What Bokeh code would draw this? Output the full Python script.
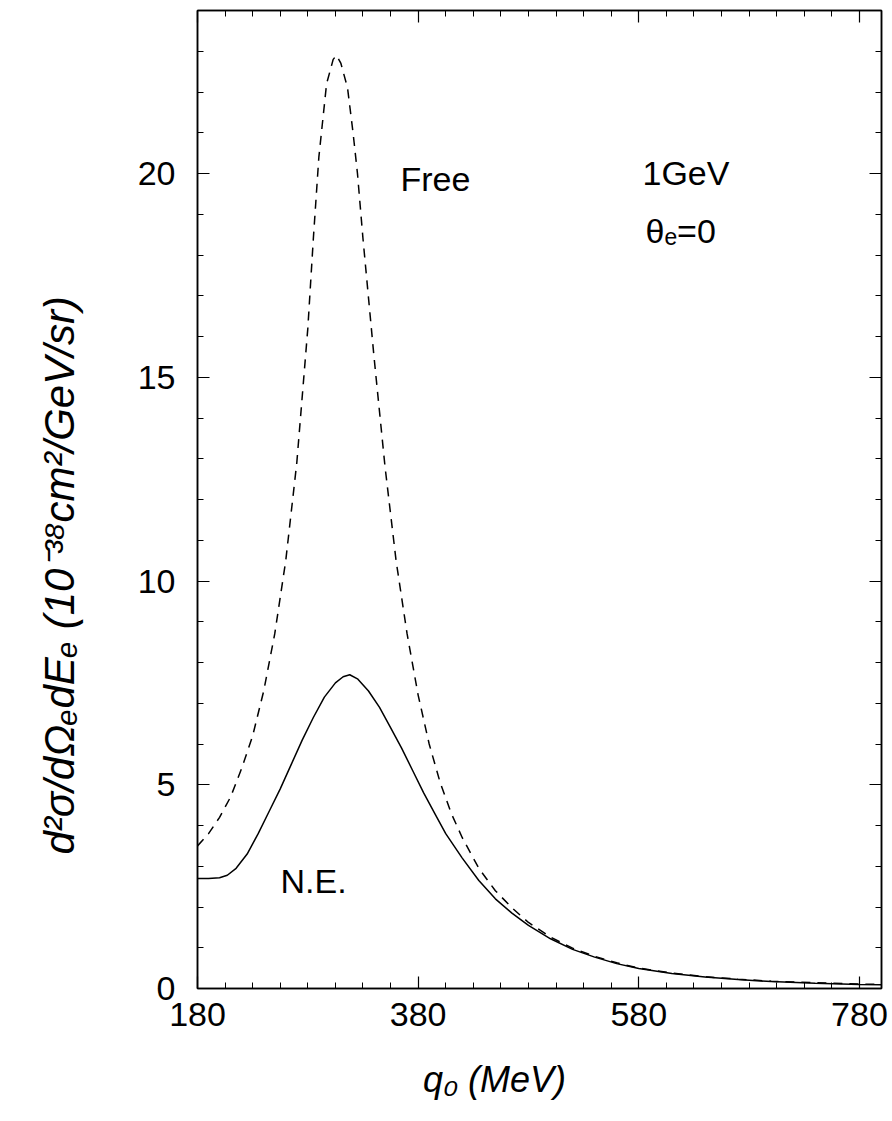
from bokeh.plotting import figure
from bokeh.models import LinearAxis, FixedTicker, Label, Range1d, CustomJSTickFormatter
from bokeh.embed import file_html
from bokeh.resources import INLINE

# ---- data ----
q0_free = [180, 190, 200, 210, 220, 230, 240, 250, 260, 270, 280, 285, 290, 297, 303, 306,
           310, 316, 321, 325, 330, 340, 350, 360, 370, 380, 390, 400, 410, 420, 435, 450,
           465, 480, 500, 520, 540, 560, 580, 610, 640, 670, 700, 740, 780, 800]
free = [3.5, 3.8, 4.2, 4.7, 5.4, 6.2, 7.3, 8.7, 10.5, 12.9, 16.2, 18.4, 20.4, 22.2, 22.8, 22.9,
        22.7, 22.1, 21.0, 20.0, 18.4, 15.5, 12.8, 10.5, 8.7, 7.2, 6.0, 5.05, 4.3, 3.7, 2.95, 2.4,
        1.98, 1.62, 1.26, 0.99, 0.79, 0.63, 0.5, 0.38, 0.29, 0.23, 0.18, 0.14, 0.11, 0.1]

q0_ne = [180, 190, 200, 207, 215, 225, 235, 245, 255, 265, 275, 285, 295, 305, 312,
         318, 325, 335, 345, 355, 365, 375, 385, 395, 405, 420, 435, 450, 465, 480,
         500, 520, 540, 560, 580, 610, 640, 670, 700, 740, 780, 800]
ne = [2.7, 2.7, 2.72, 2.78, 2.95, 3.3, 3.8, 4.35, 4.9, 5.5, 6.1, 6.65, 7.15, 7.5, 7.65,
      7.7, 7.6, 7.3, 6.9, 6.4, 5.9, 5.35, 4.8, 4.3, 3.8, 3.2, 2.65, 2.2, 1.85, 1.55,
      1.22, 0.96, 0.77, 0.61, 0.49, 0.37, 0.28, 0.22, 0.17, 0.13, 0.1, 0.09]

x_ticks = [180, 380, 580, 780]
y_ticks = [0, 5, 10, 15, 20]

FONT = "Liberation Sans"
NB = "\u00a0"

p = figure(frame_width=684, frame_height=978, output_backend="svg", toolbar_location=None,
           x_range=Range1d(180, 800), y_range=Range1d(0, 24),
           min_border_left=197, min_border_right=11, min_border_top=10, min_border_bottom=133,
           x_axis_label="q\u2080 (MeV)" + NB * 9,
           y_axis_label="d\u00b2\u03c3/d\u03a9\u2091dE\u2091  (10\u207b\u00b3\u2078cm\u00b2/GeV/sr)" + NB * 12)
p.background_fill_color = "white"
p.border_fill_color = "white"
p.outline_line_color = "black"
p.outline_line_width = 1.5
p.grid.visible = False

xt = FixedTicker(ticks=x_ticks, minor_ticks=list(range(180, 801, 25)))
yt = FixedTicker(ticks=y_ticks, minor_ticks=list(range(0, 25)))

def style(ax, show_labels):
    ax.axis_line_color = "black"
    ax.axis_line_width = 1.5
    ax.major_tick_in = 12
    ax.major_tick_out = 0
    ax.minor_tick_in = 6
    ax.minor_tick_out = 0
    ax.major_tick_line_color = "black"
    ax.minor_tick_line_color = "black"
    ax.major_tick_line_width = 1.2
    ax.minor_tick_line_width = 1.0
    if show_labels:
        ax.major_label_text_font = FONT
        ax.major_label_text_font_size = "34px"
        ax.major_label_text_color = "black"
    else:
        ax.formatter = CustomJSTickFormatter(code="return ''")

p.xaxis.ticker = xt
p.yaxis.ticker = yt
style(p.xaxis[0], True)
style(p.yaxis[0], True)
p.xaxis.major_label_standoff = 14
p.yaxis.major_label_standoff = 22
p.xaxis.axis_label_text_font = FONT
p.xaxis.axis_label_text_font_size = "36px"
p.xaxis.axis_label_text_font_style = "italic"
p.xaxis.axis_label_text_color = "black"
p.xaxis.axis_label_standoff = 30
p.yaxis.axis_label_text_font = FONT
p.yaxis.axis_label_text_font_size = "42px"
p.yaxis.axis_label_text_font_style = "italic"
p.yaxis.axis_label_text_color = "black"
p.yaxis.axis_label_standoff = 52

top = LinearAxis(ticker=xt)
style(top, False)
p.add_layout(top, "above")
right = LinearAxis(ticker=yt)
style(right, False)
p.add_layout(right, "right")

p.line(q0_free, free, line_color="black", line_width=1.5, line_dash="9 7")
p.line(q0_ne, ne, line_color="black", line_width=1.5)

def lab(x, y, t, size="34px"):
    p.add_layout(Label(x=x, y=y, text=t, x_units="screen", y_units="screen",
                       text_font=FONT, text_font_size=size, text_color="black",
                       text_baseline="middle", text_align="left"))

# screen coords relative to frame (origin bottom-left of frame)
lab(203, 978 - 168, "Free")
lab(445, 978 - 162, "1GeV")
lab(448, 978 - 220, "\u03b8\u2091=0")
lab(83, 978 - 870, "N.E.")

open("out.html", "w").write(file_html(p, INLINE))
